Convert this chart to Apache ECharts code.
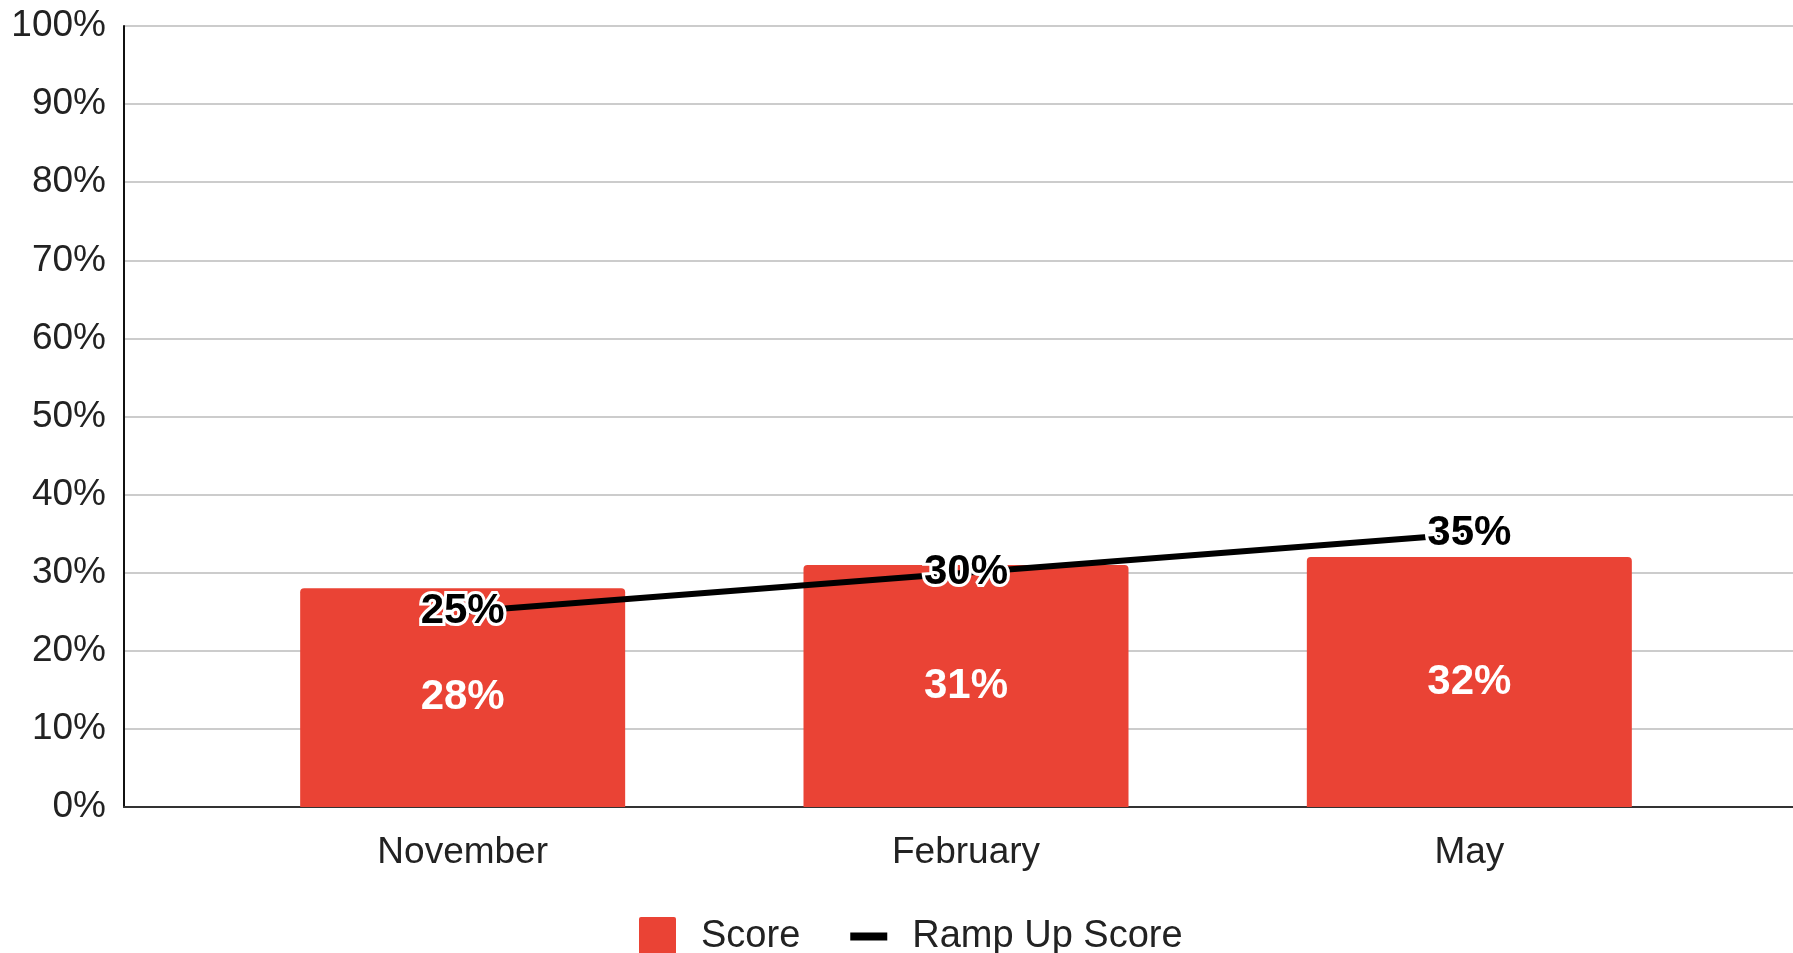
<!DOCTYPE html>
<html>
<head>
<meta charset="utf-8">
<script src="https://cdn.jsdelivr.net/npm/echarts@6/dist/echarts.min.js"></script>
<style>
  html, body { margin: 0; padding: 0; background: #fff; }
  #chart { width: 1793px; height: 953px; }
</style>
</head>
<body>
<div id="chart"></div>
<script>
// data
const months = ["November", "February", "May"];
const score = [0.28, 0.31, 0.32];
const rampUp = [0.25, 0.30, 0.35];

const pct = v => Math.round(v * 100) + "%";
const font = "'Liberation Sans', Arial, sans-serif";

let chart = echarts.init(document.getElementById("chart"));
chart.setOption({
  animation: false,
  textStyle: { fontFamily: font },
  grid: [
    // full-width grid: y axis, gridlines, baseline
    { left: 124, right: 0, top: 26, bottom: 146 },
    // narrower grid that holds the categories
    { left: 211, right: 72, top: 26, bottom: 146 }
  ],
  legend: {
    left: 634,
    top: 912,
    itemWidth: 37,
    itemHeight: 39,
    itemGap: 50,
    textStyle: { fontSize: 38, color: "#222", fontFamily: font, padding: [0, 0, 0, 20] },
    data: [
      { name: "Score", icon: "path://M2,0H35Q37,0 37,2V37Q37,39 35,39H2Q0,39 0,37V2Q0,0 2,0Z" },
      { name: "Ramp Up Score", icon: "path://M0,0H38V8H0Z" }
    ]
  },
  xAxis: [
    {
      type: "value", gridIndex: 0, min: 0, max: 1,
      axisLine: { show: true, lineStyle: { color: "#333", width: 2 } },
      axisTick: { show: false }, axisLabel: { show: false }, splitLine: { show: false }
    },
    {
      type: "category", gridIndex: 1, data: months,
      axisLine: { show: false }, axisTick: { show: false },
      axisLabel: { fontSize: 37, color: "#222", margin: 27 }
    }
  ],
  yAxis: [
    {
      type: "value", gridIndex: 0, min: 0, max: 1, interval: 0.1,
      axisLine: { show: true, lineStyle: { color: "#111", width: 2 } },
      axisTick: { show: false },
      axisLabel: { formatter: pct, fontSize: 37, color: "#222", margin: 18 },
      splitLine: { lineStyle: { color: "#cccccc", width: 2 } }
    },
    {
      type: "value", gridIndex: 1, min: 0, max: 1, show: false,
      splitLine: { show: false }
    }
  ],
  series: [
    {
      name: "Score",
      type: "bar",
      xAxisIndex: 1, yAxisIndex: 1,
      data: score,
      barWidth: 325,
      itemStyle: { color: "#ea4335", borderRadius: [4, 4, 0, 0] },
      label: {
        show: true, position: "inside", formatter: p => pct(p.value),
        color: "#fff", fontWeight: "bold", fontSize: 42
      }
    },
    {
      name: "Ramp Up Score",
      type: "line",
      xAxisIndex: 1, yAxisIndex: 1,
      data: rampUp,
      symbol: "circle",
      symbolSize: 1,
      lineStyle: { color: "#000", width: 6 },
      itemStyle: { color: "#000" },
      label: {
        show: true, position: "inside", formatter: p => pct(p.value),
        color: "#000", fontWeight: "bold", fontSize: 42,
        textBorderColor: "#fff", textBorderWidth: 6
      },
      z: 3
    }
  ]
});
</script>
</body>
</html>
